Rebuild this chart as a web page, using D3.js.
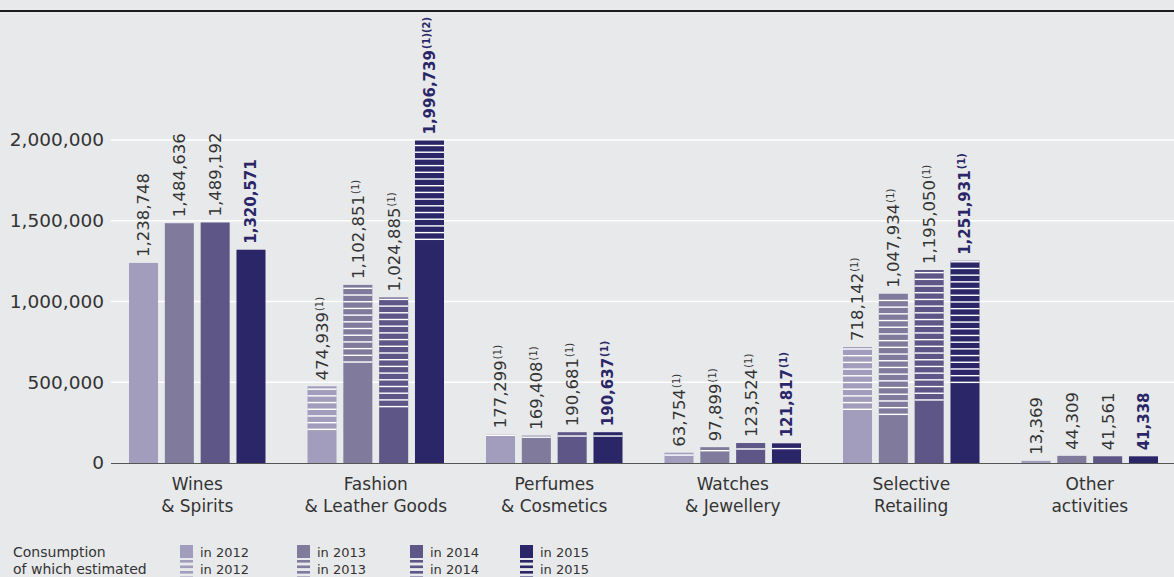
<!DOCTYPE html>
<html>
<head>
<meta charset="utf-8">
<script src="https://cdn.jsdelivr.net/npm/d3@7/dist/d3.min.js"></script>
<style>
  html, body { margin: 0; padding: 0; background: #e8e9eb; }
  svg { display: block; font-family: "DejaVu Sans", sans-serif; }
</style>
</head>
<body>
<svg id="chart" width="1174" height="577"></svg>
<script>
// ---- data ----
const categories = ["Wines & Spirits", "Fashion & Leather Goods", "Perfumes & Cosmetics", "Watches & Jewellery", "Selective Retailing", "Other activities"];
const categoryLines = [["Wines", "& Spirits"], ["Fashion", "& Leather Goods"], ["Perfumes", "& Cosmetics"], ["Watches", "& Jewellery"], ["Selective", "Retailing"], ["Other", "activities"]];
const years = ["2012", "2013", "2014", "2015"];
const consumption2012 = [1238748, 474939, 177299, 63754, 718142, 13369];
const consumption2013 = [1484636, 1102851, 169408, 97899, 1047934, 44309];
const consumption2014 = [1489192, 1024885, 190681, 123524, 1195050, 41561];
const consumption2015 = [1320571, 1996739, 190637, 121817, 1251931, 41338];
// estimated part of each bar (read from the hatched portion)
const estimated2012 = [0, 271000, 10000, 19000, 390000, 0];
const estimated2013 = [0, 482000, 14000, 26000, 751000, 0];
const estimated2014 = [0, 680000, 28000, 41000, 809000, 0];
const estimated2015 = [0, 616000, 28000, 37000, 757000, 0];
const notes2012 = ["", "(1)", "(1)", "(1)", "(1)", ""];
const notes2013 = ["", "(1)", "(1)", "(1)", "(1)", ""];
const notes2014 = ["", "(1)", "(1)", "(1)", "(1)", ""];
const notes2015 = ["", "(1)(2)", "(1)", "(1)", "(1)", ""];
const yTicks = [0, 500000, 1000000, 1500000, 2000000];
const legendRows = ["Consumption", "of which estimated"];

const consumption = [consumption2012, consumption2013, consumption2014, consumption2015];
const estimated = [estimated2012, estimated2013, estimated2014, estimated2015];
const notes = [notes2012, notes2013, notes2014, notes2015];
const colors = ["#a39dbd", "#807a9d", "#5d5686", "#2a2668"];

const svg = d3.select("#chart");
const W = 1174;

const y = d3.scaleLinear().domain([0, 2000000]).range([463, 140]);
const x0 = d3.scaleBand().domain(categories).range([108, 1179]).paddingInner(0).paddingOuter(0);
const x1 = d3.scaleBand().domain(years).range([21, 157.5]).paddingInner(0.19).paddingOuter(0);

// top rule
svg.append("line").attr("x1", 0).attr("x2", W).attr("y1", 11).attr("y2", 11)
  .attr("stroke", "#1e1e1e").attr("stroke-width", 2);

// y axis
const yAxis = d3.axisLeft(y).tickValues(yTicks).tickFormat(d3.format(",")).tickSize(0).tickPadding(7);
const gy = svg.append("g").attr("transform", "translate(111,0)").call(yAxis);
gy.select(".domain").remove();
gy.selectAll("text").attr("fill", "#333").attr("font-size", "18.5px").attr("font-family", "DejaVu Sans");

// gridlines
svg.append("g").selectAll("line").data(yTicks.filter(d => d > 0)).join("line")
  .attr("x1", 111).attr("x2", W).attr("y1", d => y(d)).attr("y2", d => y(d))
  .attr("stroke", "#ffffff").attr("stroke-width", 1.5);

// bars
const flat = [];
categories.forEach((c, ci) => {
  years.forEach((yr, yi) => {
    flat.push({ c, ci, yr, yi, v: consumption[yi][ci], est: estimated[yi][ci], note: notes[yi][ci] });
  });
});

const barG = svg.append("g");
barG.selectAll("rect.bar").data(flat).join("rect")
  .attr("class", "bar")
  .attr("x", d => x0(d.c) + x1(d.yr))
  .attr("width", x1.bandwidth())
  .attr("y", d => y(d.v))
  .attr("height", d => y(0) - y(d.v))
  .attr("fill", d => colors[d.yi]);

// hatching of estimated portion: white lines from the split upward
const stripes = [];
flat.filter(d => d.est > 0).forEach(d => {
  const top = y(d.v);
  const split = y(d.v - d.est);
  for (let yy = split - 1.4; yy >= top - 0.2; yy -= 6.7) {
    stripes.push({ d, yy });
  }
});
barG.selectAll("rect.stripe").data(stripes).join("rect")
  .attr("class", "stripe")
  .attr("x", s => x0(s.d.c) + x1(s.d.yr))
  .attr("width", x1.bandwidth())
  .attr("y", s => s.yy)
  .attr("height", 1.4)
  .attr("fill", "#ffffff");

// baseline
svg.append("line").attr("x1", 111).attr("x2", W).attr("y1", y(0) + 0.5).attr("y2", y(0) + 0.5)
  .attr("stroke", "#555").attr("stroke-width", 1.2);

// value labels
const lbl = svg.append("g").selectAll("text").data(flat).join("text")
  .attr("transform", d => `translate(${x0(d.c) + x1(d.yr) + x1.bandwidth() / 2},${y(d.v) - 6}) rotate(-90)`)
  .attr("dy", "0.36em")
  .attr("text-anchor", "start")
  .attr("fill", d => d.yi === 3 ? "#2a2668" : "#333")
  .attr("font-weight", d => d.yi === 3 ? "bold" : "normal")
  .attr("font-size", d => d.yi === 3 ? "15px" : "16.5px");
lbl.append("tspan").text(d => d3.format(",")(d.v));
lbl.filter(d => d.note).append("tspan")
  .attr("font-size", "10px").attr("dy", "-5").attr("dx", "1")
  .text(d => d.note);

// category labels
const cat = svg.append("g").selectAll("text").data(categories).join("text")
  .attr("x", (d) => x0(d) + 89.25)
  .attr("y", 490)
  .attr("text-anchor", "middle")
  .attr("fill", "#333")
  .attr("font-size", "17px");
cat.selectAll("tspan").data((d, i) => categoryLines[i].map((t, k) => ({ t, k, d })))
  .join("tspan")
  .attr("x", t => x0(t.d) + 89.25)
  .attr("dy", t => t.k === 0 ? 0 : 22)
  .text(t => t.t);

// legend
const lg = svg.append("g");
lg.selectAll("text.row").data(legendRows).join("text")
  .attr("class", "row")
  .attr("x", 13).attr("y", (d, i) => 556.5 + i * 17.5)
  .attr("fill", "#333").attr("font-size", "14px")
  .text(d => d);
const legX = [180, 297, 410, 520];
years.forEach((yr, i) => {
  lg.append("rect").attr("x", legX[i]).attr("y", 545).attr("width", 13).attr("height", 13).attr("fill", colors[i]);
  [560, 565.5, 571, 576.5].forEach(sy => {
    lg.append("rect").attr("x", legX[i]).attr("y", sy).attr("width", 13).attr("height", 2.6).attr("fill", colors[i]);
  });
  [0, 1].forEach(r => {
    lg.append("text").attr("x", legX[i] + 20).attr("y", 556.5 + r * 17.5)
      .attr("fill", "#333").attr("font-size", "13px").text("in " + yr);
  });
});
</script>
</body>
</html>
